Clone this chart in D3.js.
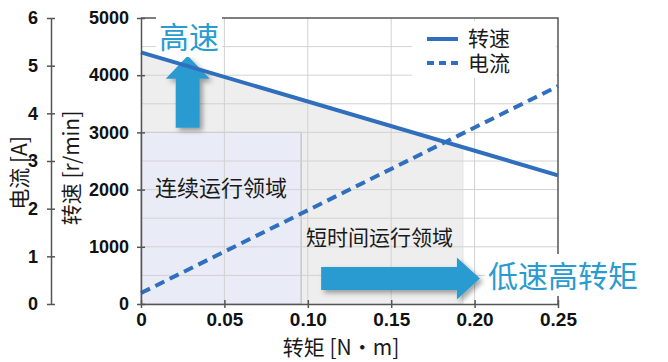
<!DOCTYPE html>
<html>
<head>
<meta charset="utf-8">
<script src="https://cdn.jsdelivr.net/npm/d3@7"></script>
<style>
  body { margin: 0; background: #fff; }
  svg { display: block; }
  .tick text { font-family: "Liberation Sans", Arial, sans-serif; font-weight: bold; fill: #111; }
  .cjk { font-family: "Noto Sans CJK SC", sans-serif; }
</style>
</head>
<body>
<svg id="chart" width="668" height="362"></svg>
<script>
// data
const torque = [0, 0.25];
const speed = [4400, 2250];
const current = [0.23, 4.57];

const torqueTicks = [0, 0.05, 0.10, 0.15, 0.20, 0.25];
const torqueLabels = ["0", "0.05", "0.10", "0.15", "0.20", "0.25"];
const speedTicks = [0, 1000, 2000, 3000, 4000, 5000];
const speedGrid = d3.range(500, 5000, 500);
const currentTicks = [0, 1, 2, 3, 4, 5, 6];

const continuousTorque = [0, 0.096];
const continuousSpeed = [0, 3000];
const shortTimeTorque = [0, 0.193];

const upArrow = { torque: 0.028, speed: [3080, 4340] };
const rightArrow = { speed: 446, torque: [0.108, 0.2032] };

const blue = "#2f6fbd";
const cyan = "#2a9bd1";

const svg = d3.select("#chart");
const x = d3.scaleLinear([0, 0.25], [141, 558]);
const ySpeed = d3.scaleLinear([0, 5000], [304, 18]);
const yCur = d3.scaleLinear([0, 6], [304, 18]);
const speedAt = d3.scaleLinear(torque, speed);

const defs = svg.append("defs");
defs.append("filter").attr("id", "shadow")
  .attr("x", "-30%").attr("y", "-30%").attr("width", "160%").attr("height", "160%")
  .append("feDropShadow")
  .attr("dx", 3).attr("dy", 3).attr("stdDeviation", 2.5)
  .attr("flood-color", "#000").attr("flood-opacity", 0.35);

// short-time region: under speed line
const stPts = shortTimeTorque.map(t => ({ t, s: speedAt(t) }));
svg.append("path")
  .datum(stPts)
  .attr("d", d3.area().x(d => x(d.t)).y0(ySpeed(0)).y1(d => ySpeed(d.s)))
  .attr("fill", "#eeeeee")
  .attr("stroke", "#e2e2e2");

// continuous region
svg.append("rect")
  .attr("x", x(continuousTorque[0]))
  .attr("y", ySpeed(continuousSpeed[1]))
  .attr("width", x(continuousTorque[1]) - x(continuousTorque[0]))
  .attr("height", ySpeed(continuousSpeed[0]) - ySpeed(continuousSpeed[1]))
  .attr("fill", "#e9ecf6")
  .attr("stroke", "#b4b4b8")
  .attr("stroke-width", 1);

// grid
const grid = svg.append("g").attr("stroke", "#d2d2d2").attr("stroke-width", 1);
grid.selectAll(".h").data(speedGrid).join("line")
  .attr("x1", x(0)).attr("x2", x(0.25))
  .attr("y1", d => ySpeed(d)).attr("y2", d => ySpeed(d));
grid.selectAll(".v").data(torqueTicks.slice(1, -1)).join("line")
  .attr("x1", d => x(d)).attr("x2", d => x(d))
  .attr("y1", ySpeed(0)).attr("y2", ySpeed(5000));

// legend box
svg.append("rect")
  .attr("x", 412).attr("y", 21).attr("width", 144).attr("height", 57)
  .attr("fill", "#fff");

// frame top and right
svg.append("path")
  .attr("d", `M${x(0)},${ySpeed(5000)}H${x(0.25)}V${ySpeed(0)}`)
  .attr("fill", "none").attr("stroke", "#555").attr("stroke-width", 1.5);

// region labels
svg.append("text").attr("class", "cjk")
  .attr("x", (x(0) + x(continuousTorque[1])) / 2).attr("y", 196)
  .attr("text-anchor", "middle").attr("font-size", 22).attr("fill", "#1a1a1a")
  .text("连续运行领域");
svg.append("text").attr("class", "cjk")
  .attr("x", 306).attr("y", 245)
  .attr("font-size", 21).attr("fill", "#1a1a1a")
  .text("短时间运行领域");

// arrows
const ax = x(upArrow.torque), ayB = ySpeed(upArrow.speed[0]), ayT = ySpeed(upArrow.speed[1]);
svg.append("path")
  .attr("d", `M${ax - 12},${ayB}V${ayT + 23}H${ax - 22}L${ax},${ayT}L${ax + 22},${ayT + 23}H${ax + 12}V${ayB}Z`)
  .attr("fill", cyan).attr("filter", "url(#shadow)");

const ry = ySpeed(rightArrow.speed), rxL = x(rightArrow.torque[0]), rxR = x(rightArrow.torque[1]);
svg.append("path")
  .attr("d", `M${rxL},${ry - 11.5}H${rxR - 23}V${ry - 21}L${rxR},${ry}L${rxR - 23},${ry + 21}V${ry + 11.5}H${rxL}Z`)
  .attr("fill", cyan).attr("filter", "url(#shadow)");

// annotation texts with white backing
function note(tx, ty, size, str) {
  const g = svg.append("g");
  const bg = g.append("rect").attr("fill", "#fff");
  const t = g.append("text").attr("class", "cjk")
    .attr("x", tx).attr("y", ty).attr("font-size", size).attr("fill", cyan)
    .text(str);
  const b = t.node().getBBox();
  bg.attr("x", b.x - 3).attr("y", b.y + 2).attr("width", b.width + 6).attr("height", b.height - 2);
}
note(159, 48, 30, "高速");
note(488, 287, 30, "低速高转矩");

// data lines
const line = d3.line().x(d => x(d[0])).y(d => d[1]);
svg.append("path")
  .datum(torque.map((t, i) => [t, ySpeed(speed[i])]))
  .attr("d", line).attr("fill", "none")
  .attr("stroke", blue).attr("stroke-width", 4);
svg.append("path")
  .datum(torque.map((t, i) => [t, yCur(current[i])]))
  .attr("d", line).attr("fill", "none")
  .attr("stroke", blue).attr("stroke-width", 4).attr("stroke-dasharray", "10,6");

// legend
const legend = svg.append("g");
legend.append("line").attr("x1", 427).attr("x2", 458).attr("y1", 39).attr("y2", 39)
  .attr("stroke", blue).attr("stroke-width", 4);
legend.append("line").attr("x1", 427).attr("x2", 458).attr("y1", 63).attr("y2", 63)
  .attr("stroke", blue).attr("stroke-width", 4).attr("stroke-dasharray", "7,5");
legend.append("text").attr("class", "cjk").attr("x", 468).attr("y", 46)
  .attr("font-size", 21).attr("fill", "#1a1a1a").text("转速");
legend.append("text").attr("class", "cjk").attr("x", 468).attr("y", 71)
  .attr("font-size", 21).attr("fill", "#1a1a1a").text("电流");

// axes
function styleAxis(g, cross) {
  g.select(".domain").attr("stroke", "#555").attr("stroke-width", 1.5);
  g.selectAll(".tick line").attr("stroke", "#555").attr("stroke-width", 1.5);
  if (cross === "x") g.selectAll(".tick line").attr("x1", -4).attr("x2", 4);
  else g.selectAll(".tick line").attr("y1", -4).attr("y2", 4);
}

svg.append("g")
  .attr("transform", `translate(${x(0)},0)`)
  .call(d3.axisLeft(ySpeed).tickValues(speedTicks).tickFormat(d3.format("d"))
    .tickSize(4).tickPadding(8).tickSizeOuter(0))
  .call(g => g.selectAll(".tick text").attr("font-size", 18))
  .call(g => styleAxis(g, "x"));

svg.append("g")
  .attr("transform", "translate(51,0)")
  .call(d3.axisLeft(yCur).tickValues(currentTicks).tickFormat(d3.format("d"))
    .tickSize(4).tickPadding(9).tickSizeOuter(0))
  .call(g => g.selectAll(".tick text").attr("font-size", 18))
  .call(g => styleAxis(g, "x"));

svg.append("g")
  .attr("transform", `translate(0,${ySpeed(0)})`)
  .call(d3.axisBottom(x).tickValues(torqueTicks).tickFormat((d, i) => torqueLabels[i])
    .tickSize(4).tickPadding(5).tickSizeOuter(0))
  .call(g => g.selectAll(".tick text").attr("font-size", 19))
  .call(g => styleAxis(g, "y"));

// axis titles
svg.append("text").attr("class", "cjk")
  .attr("transform", "translate(27,173) rotate(-90)")
  .attr("text-anchor", "middle").attr("font-size", 21).attr("fill", "#1a1a1a")
  .text("电流 [A]");
svg.append("text").attr("class", "cjk")
  .attr("transform", "translate(79,168) rotate(-90)")
  .attr("text-anchor", "middle").attr("font-size", 21).attr("fill", "#1a1a1a")
  .text("转速 [r/min]");
svg.append("text").attr("class", "cjk")
  .attr("x", 341).attr("y", 355)
  .attr("text-anchor", "middle").attr("font-size", 21).attr("fill", "#1a1a1a")
  .text("转矩 [N·m]");
</script>
</body>
</html>
